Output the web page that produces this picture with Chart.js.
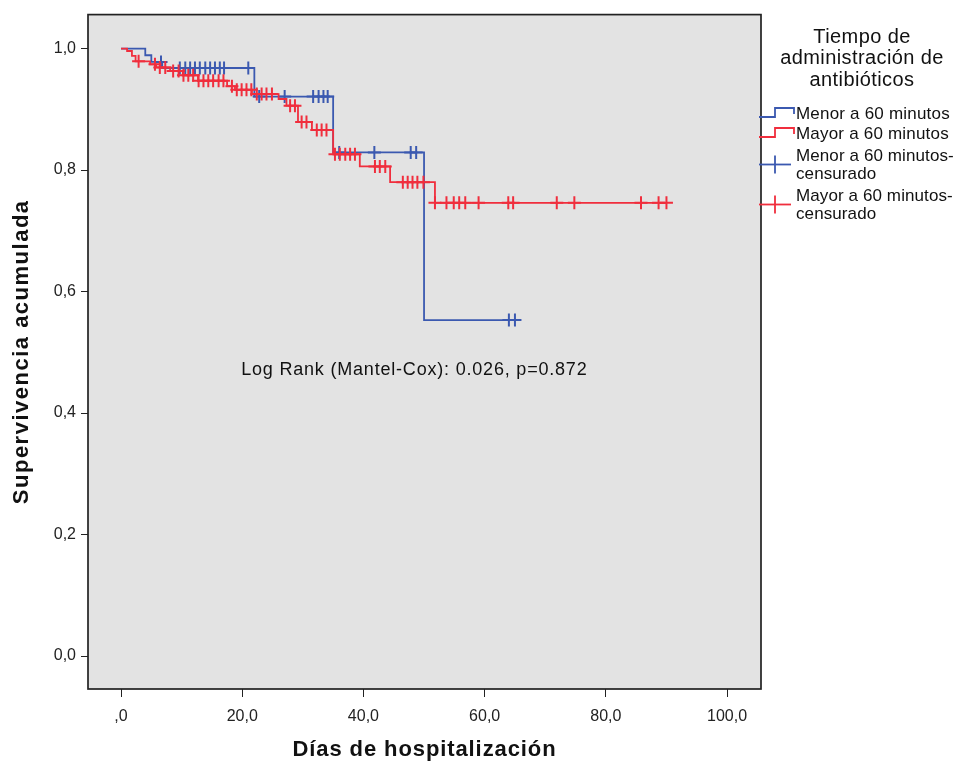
<!DOCTYPE html>
<html lang="es">
<head>
<meta charset="utf-8">
<title>Supervivencia acumulada</title>
<script src="https://cdn.jsdelivr.net/npm/chart.js@4.4.1/dist/chart.umd.min.js"></script>
<style>
    html, body { margin: 0; padding: 0; background: #ffffff; }
    #caja { position: relative; width: 958px; height: 763px; }
</style>
</head>
<body>
<div id="caja"><canvas id="chartSupervivencia"></canvas></div>
<script>
const grupos = ['Menor a 60 minutos', 'Mayor a 60 minutos'];
const titulosCensura = [['Menor a 60 minutos-', 'censurado'], ['Mayor a 60 minutos-', 'censurado']];
const tituloLeyenda = ['Tiempo de', 'administración de', 'antibióticos'];

// Kaplan-Meier: dia de cada evento y supervivencia acumulada despues de el
const menorTiempos = [0, 4, 5, 6.8, 22, 35, 50, 65];
const menorSuperv = [1, 0.989, 0.978, 0.968, 0.921, 0.829, 0.553, 0.553];
const menorCensurados = [6.6, 9.7, 10.6, 11.4, 12.2, 13.0, 13.9, 14.7, 15.5, 16.3, 17.0, 21.0,
    22.8, 27.0, 31.7, 32.6, 33.4, 34.1, 36.0, 41.8, 47.8, 48.7, 64.0, 65.0];

const mayorTiempos = [0, 1.0, 1.8, 2.4, 4.8, 5.8, 8.1, 10.2, 12.7, 17.5, 18.8, 21.6, 26.0,
    27.3, 29.2, 31.5, 35.0, 39.4, 44.4, 51.8, 90];
const mayorSuperv = [1, 0.996, 0.988, 0.979, 0.974, 0.969, 0.963, 0.956, 0.947, 0.938, 0.932, 0.925, 0.917,
    0.906, 0.879, 0.866, 0.826, 0.806, 0.780, 0.746, 0.746];
const mayorCensurados = [2.9, 5.6, 6.4, 7.3, 8.6, 9.5, 10.3, 11.1, 11.9, 12.8, 13.6, 14.4, 15.2, 16.1, 16.9,
    18.3, 19.1, 19.9, 20.7, 21.5, 22.4, 23.2, 24.0, 24.9, 27.9, 28.7, 29.8, 30.6, 32.3, 33.1, 33.9,
    35.3, 36.1, 37.0, 37.8, 38.6, 41.9, 42.7, 43.6, 46.5, 47.3, 48.1, 48.9, 49.9,
    51.8, 53.7, 54.9, 55.8, 56.8, 59.0, 63.9, 64.7, 71.9, 74.8, 85.8, 88.7, 90.0];

const ticksX = [0, 20, 40, 60, 80, 100];
const ticksY = [0, 0.2, 0.4, 0.6, 0.8, 1.0];
const textoLogRank = 'Log Rank (Mantel-Cox): 0.026, p=0.872';

const AZUL = '#3b59b0';
const ROJO = '#f02e3d';
const FUENTE = '"Liberation Sans", Arial, sans-serif';

// supervivencia de la curva en el dia t (funcion escalonada)
function supervEn(tiempos, superv, t) {
    let s = superv[0];
    for (let i = 0; i < tiempos.length; i++) {
        if (tiempos[i] <= t) s = superv[i];
    }
    return s;
}

function puntos(tiempos, superv) {
    return tiempos.map((t, i) => ({x: t, y: superv[i]}));
}

function censuras(lista, tiempos, superv) {
    return lista.map(t => ({x: t, y: supervEn(tiempos, superv, t)}));
}

function coma(v) {
    return v.toFixed(1).replace('.', ',');
}

function texto(ctx, str, x, y, font, align, espacio) {
    ctx.font = font;
    ctx.letterSpacing = espacio + 'px';
    ctx.textAlign = align;
    ctx.textBaseline = 'middle';
    ctx.fillStyle = '#111111';
    ctx.fillText(str, x, y);
    ctx.letterSpacing = '0px';
}

function linea(ctx, pts, color) {
    ctx.beginPath();
    ctx.moveTo(pts[0][0], pts[0][1]);
    for (let i = 1; i < pts.length; i++) ctx.lineTo(pts[i][0], pts[i][1]);
    ctx.strokeStyle = color;
    ctx.lineWidth = 1.8;
    ctx.stroke();
}

const marcoYTextos = {
    id: 'marcoYTextos',
    beforeDraw(chart) {
        const {ctx, chartArea: a} = chart;
        ctx.save();
        ctx.fillStyle = '#e3e3e3';
        ctx.fillRect(a.left, a.top, a.right - a.left, a.bottom - a.top);
        ctx.restore();
    },
    afterDraw(chart) {
        const {ctx, chartArea: a, scales} = chart;
        ctx.save();
        ctx.strokeStyle = '#222222';
        ctx.lineWidth = 1.7;
        ctx.strokeRect(a.left, a.top, a.right - a.left, a.bottom - a.top);

        // titulos de los ejes
        texto(ctx, 'Días de hospitalización', (a.left + a.right) / 2, 750, 'bold 22px ' + FUENTE, 'center', 0.9);
        ctx.save();
        ctx.translate(22, (a.top + a.bottom) / 2);
        ctx.rotate(-Math.PI / 2);
        texto(ctx, 'Supervivencia acumulada', 0, 0, 'bold 22px ' + FUENTE, 'center', 1.5);
        ctx.restore();

        // estadistico de comparacion
        texto(ctx, textoLogRank, scales.x.getPixelForValue(48.4), scales.y.getPixelForValue(0.47),
            '18px ' + FUENTE, 'center', 0.8);

        // leyenda a la derecha
        const cx = 862;
        tituloLeyenda.forEach((t, i) => {
            texto(ctx, t, cx, 37 + i * 21.5, '20px ' + FUENTE, 'center', 0.4);
        });
        const colores = [AZUL, ROJO];
        const x0 = a.right - 2, xm = 775, x1 = 794, xt = 796;
        [114, 134].forEach((y, i) => {
            linea(ctx, [[x0, y + 3], [xm, y + 3], [xm, y - 6], [x1, y - 6], [x1, y]], colores[i]);
            texto(ctx, grupos[i], xt, y, '17px ' + FUENTE, 'left', 0.2);
        });
        [156, 196].forEach((y, i) => {
            const yc = y + 8.5;
            linea(ctx, [[x0, yc], [791, yc]], colores[i]);
            linea(ctx, [[xm, yc - 9], [xm, yc + 9]], colores[i]);
            texto(ctx, titulosCensura[i][0], xt, y, '17px ' + FUENTE, 'left', 0.1);
            texto(ctx, titulosCensura[i][1], xt, y + 18, '17px ' + FUENTE, 'left', 0.1);
        });
        ctx.restore();
    }
};

function drawSupervivencia() {
    const ctx = document.getElementById('chartSupervivencia').getContext('2d');
    const chartSupervivencia = new Chart(ctx, {
        type: 'scatter',
        data: {
            datasets: [
                {
                    label: grupos[0],
                    data: puntos(menorTiempos, menorSuperv),
                    showLine: true,
                    stepped: 'before',
                    borderColor: AZUL,
                    borderWidth: 1.8,
                    pointRadius: 0,
                    order: 4
                },
                {
                    label: titulosCensura[0].join(''),
                    data: censuras(menorCensurados, menorTiempos, menorSuperv),
                    pointStyle: 'cross',
                    pointRadius: 6.5,
                    pointBorderWidth: 2,
                    borderColor: AZUL,
                    order: 3
                },
                {
                    label: grupos[1],
                    data: puntos(mayorTiempos, mayorSuperv),
                    showLine: true,
                    stepped: 'before',
                    borderColor: ROJO,
                    borderWidth: 1.8,
                    pointRadius: 0,
                    order: 2
                },
                {
                    label: titulosCensura[1].join(''),
                    data: censuras(mayorCensurados, mayorTiempos, mayorSuperv),
                    pointStyle: 'cross',
                    pointRadius: 6.5,
                    pointBorderWidth: 2,
                    borderColor: ROJO,
                    order: 1
                }
            ]
        },
        options: {
            responsive: true,
            maintainAspectRatio: false,
            animation: false,
            layout: {
                padding: {top: 14, right: 197, left: 0, bottom: 0}
            },
            scales: {
                x: {
                    type: 'linear',
                    min: -5.45,
                    max: 105.6,
                    afterBuildTicks: function (scale) {
                        scale.ticks = ticksX.map(v => ({value: v}));
                    },
                    afterFit: function (scale) {
                        scale.height = 74;
                    },
                    ticks: {
                        callback: v => v === 0 ? ',0' : coma(v),
                        font: {family: FUENTE, size: 16},
                        color: '#222222',
                        padding: 10,
                        maxRotation: 0,
                        autoSkip: false
                    },
                    grid: {
                        drawOnChartArea: false,
                        tickLength: 8,
                        color: '#222222'
                    },
                    border: {display: false}
                },
                y: {
                    type: 'linear',
                    min: -0.0543,
                    max: 1.0559,
                    afterBuildTicks: function (scale) {
                        scale.ticks = ticksY.map(v => ({value: v}));
                    },
                    afterFit: function (scale) {
                        scale.width = 88;
                    },
                    ticks: {
                        callback: v => coma(v),
                        font: {family: FUENTE, size: 16},
                        color: '#222222',
                        padding: 5,
                        autoSkip: false
                    },
                    grid: {
                        drawOnChartArea: false,
                        tickLength: 7,
                        color: '#222222'
                    },
                    border: {display: false}
                }
            },
            plugins: {
                legend: {display: false},
                tooltip: {enabled: false}
            }
        },
        plugins: [marcoYTextos]
    });
}

drawSupervivencia();
</script>
</body>
</html>
